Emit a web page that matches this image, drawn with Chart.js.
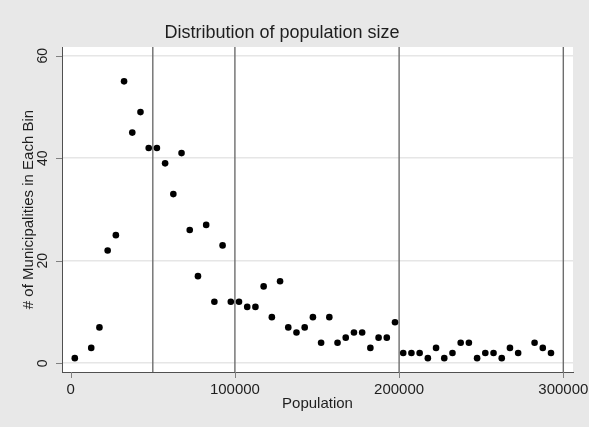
<!DOCTYPE html>
<html>
<head>
<meta charset="utf-8">
<script src="https://cdn.jsdelivr.net/npm/chart.js@4/dist/chart.umd.min.js"></script>
<style>
  html, body { margin: 0; padding: 0; background: #e8e8e8; }
  #wrap { width: 589px; height: 427px; position: relative; }
</style>
</head>
<body>
<div id="wrap"><canvas id="popChart"></canvas></div>
<script>
(function () {
    'use strict';

    // bin centres (population) and number of municipalities per bin
    var binCenters = [
        2500, 12500, 17500, 22500, 27500, 32500, 37500, 42500, 47500, 52500,
        57500, 62500, 67500, 72500, 77500, 82500, 87500, 92500, 97500, 102500,
        107500, 112500, 117500, 122500, 127500, 132500, 137500, 142500, 147500, 152500,
        157500, 162500, 167500, 172500, 177500, 182500, 187500, 192500, 197500, 202500,
        207500, 212500, 217500, 222500, 227500, 232500, 237500, 242500, 247500, 252500,
        257500, 262500, 267500, 272500, 282500, 287500, 292500
    ];
    var binCounts = [
        1, 3, 7, 22, 25, 55, 45, 49, 42, 42,
        39, 33, 41, 26, 17, 27, 12, 23, 12, 12,
        11, 11, 15, 9, 16, 7, 6, 7, 9, 4,
        9, 4, 5, 6, 6, 3, 5, 5, 8, 2,
        2, 2, 1, 3, 1, 2, 4, 4, 1, 2,
        2, 1, 3, 2, 4, 3, 2
    ];

    var xTickValues = [0, 100000, 200000, 300000];
    var yTickValues = [0, 20, 40, 60];
    var refLines = [50000, 100000, 200000, 300000];

    var titleText = 'Distribution of population size';
    var xTitle = 'Population';
    var yTitle = '# of Municipalities in Each Bin';

    var FONT = '"Liberation Sans", Arial, sans-serif';

    var points = binCenters.map(function (x, i) { return { x: x, y: binCounts[i] }; });

    var decor = {
        id: 'decor',
        beforeDraw: function (chart) {
            var ctx = chart.ctx, a = chart.chartArea;
            ctx.save();
            ctx.fillStyle = '#e8e8e8';
            ctx.fillRect(0, 0, chart.width, chart.height);
            ctx.fillStyle = '#ffffff';
            ctx.fillRect(a.left, a.top, a.right - a.left, a.bottom - a.top);
            ctx.restore();
        },
        beforeDatasetsDraw: function (chart) {
            var ctx = chart.ctx, a = chart.chartArea, xs = chart.scales.x;
            ctx.save();
            ctx.strokeStyle = '#6e6e6e';
            ctx.lineWidth = 1.4;
            refLines.forEach(function (v) {
                var px = xs.getPixelForValue(v);
                ctx.beginPath();
                ctx.moveTo(px, a.top);
                ctx.lineTo(px, a.bottom);
                ctx.stroke();
            });
            ctx.restore();
        },
        afterDraw: function (chart) {
            var ctx = chart.ctx, a = chart.chartArea;
            var xs = chart.scales.x, ys = chart.scales.y;
            ctx.save();

            // tick marks
            ctx.strokeStyle = '#808080';
            ctx.lineWidth = 1;
            xTickValues.forEach(function (v) {
                var px = Math.round(xs.getPixelForValue(v)) + 0.5;
                ctx.beginPath();
                ctx.moveTo(px, a.bottom);
                ctx.lineTo(px, a.bottom + 6);
                ctx.stroke();
            });
            yTickValues.forEach(function (v) {
                var py = Math.round(ys.getPixelForValue(v)) + 0.5;
                ctx.beginPath();
                ctx.moveTo(a.left - 6, py);
                ctx.lineTo(a.left, py);
                ctx.stroke();
            });

            ctx.fillStyle = '#1e1e1e';

            // x tick labels
            ctx.font = '15px ' + FONT;
            ctx.textAlign = 'center';
            ctx.textBaseline = 'middle';
            xTickValues.forEach(function (v) {
                ctx.fillText(String(v), xs.getPixelForValue(v), 390);
            });

            // y tick labels (rotated, Stata style)
            ctx.font = '14px ' + FONT;
            yTickValues.forEach(function (v) {
                ctx.save();
                ctx.translate(43, ys.getPixelForValue(v));
                ctx.rotate(-Math.PI / 2);
                ctx.fillText(String(v), 0, 0);
                ctx.restore();
            });

            // axis titles
            ctx.font = '15px ' + FONT;
            ctx.fillText(xTitle, (a.left + a.right) / 2, 404);
            ctx.save();
            ctx.translate(29, (a.top + a.bottom) / 2);
            ctx.rotate(-Math.PI / 2);
            ctx.fillText(yTitle, 0, 0);
            ctx.restore();

            // main title
            ctx.font = '18px ' + FONT;
            ctx.textBaseline = 'alphabetic';
            ctx.fillText(titleText, 282, 38);

            ctx.restore();
        }
    };

    new Chart(document.getElementById('popChart'), {
        type: 'scatter',
        data: {
            datasets: [{
                data: points,
                backgroundColor: '#000000',
                borderColor: '#000000',
                borderWidth: 0,
                pointRadius: 3.3,
                pointHoverRadius: 3.3
            }]
        },
        options: {
            responsive: true,
            maintainAspectRatio: false,
            animation: false,
            events: [],
            layout: { padding: { left: 62, top: 47, right: 16, bottom: 55 } },
            plugins: {
                legend: { display: false },
                title: { display: false },
                tooltip: { enabled: false }
            },
            scales: {
                x: {
                    type: 'linear',
                    min: -5300,
                    max: 305900,
                    afterBuildTicks: function (scale) {
                        scale.ticks = xTickValues.map(function (v) { return { value: v }; });
                    },
                    ticks: { display: false },
                    grid: { display: false, drawTicks: false },
                    border: { display: true, color: '#505050', width: 1 }
                },
                y: {
                    type: 'linear',
                    min: -1.7,
                    max: 61.7,
                    afterBuildTicks: function (scale) {
                        scale.ticks = yTickValues.map(function (v) { return { value: v }; });
                    },
                    ticks: { display: false },
                    grid: { display: true, drawTicks: false, color: '#e6e6e6', lineWidth: 1.6 },
                    border: { display: true, color: '#505050', width: 1 }
                }
            }
        },
        plugins: [decor]
    });
})();
</script>
</body>
</html>
